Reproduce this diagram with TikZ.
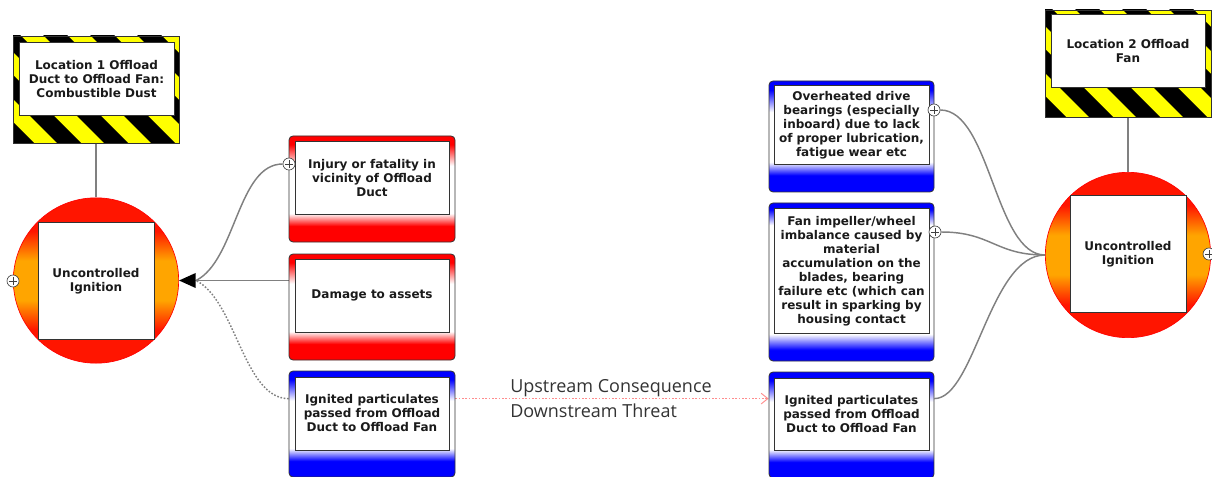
\documentclass[tikz,border=0pt]{standalone}
\usepackage{fontspec}
\setmainfont{DejaVu Sans}
\newfontfamily\labelfont{Open Sans}
\usetikzlibrary{calc,arrows.meta,backgrounds}
\definecolor{ignred}{HTML}{FF1500}
\definecolor{ignorange}{HTML}{FFA500}
\definecolor{consred}{HTML}{FF0000}
\definecolor{thrblue}{HTML}{0000FF}
\definecolor{connGray}{HTML}{808080}
\definecolor{pinkline}{HTML}{FF8C8C}
\definecolor{boxedge}{HTML}{333333}
\definecolor{txt}{HTML}{1A1A1A}
\definecolor{hazyellow}{HTML}{FFFF00}
\pgfdeclareverticalshading{igniteshade}{100bp}{color(0bp)=(ignred); color(35bp)=(ignred); color(44bp)=(ignorange); color(56bp)=(ignorange); color(65bp)=(ignred); color(100bp)=(ignred)}
\pgfdeclareverticalshading{redboxshade}{100bp}{color(0bp)=(consred); color(32.5bp)=(consred); color(38.5bp)=(white); color(61bp)=(white); color(71bp)=(consred); color(100bp)=(consred)}
\pgfdeclareverticalshading{blueboxshade}{100bp}{color(0bp)=(thrblue); color(32.5bp)=(thrblue); color(38.5bp)=(white); color(61bp)=(white); color(71bp)=(thrblue); color(100bp)=(thrblue)}
\pgfdeclareverticalshading{bluetallshade}{100bp}{color(0bp)=(thrblue); color(28.5bp)=(thrblue); color(33.5bp)=(white); color(68bp)=(white); color(73bp)=(thrblue); color(100bp)=(thrblue)}
\tikzset{
  boxtext/.style={font=\fontsize{9}{10.5}\selectfont\bfseries, text=txt, align=center},
  whitebox/.style={draw=boxedge, line width=0.75pt, fill=white, inner sep=0pt, boxtext},
  consbox/.style={draw=boxedge, line width=0.6pt, rounded corners=3pt, shading=redboxshade, minimum width=124.5pt, minimum height=79.5pt, inner sep=0pt},
  threatbox/.style={draw=boxedge, line width=0.6pt, rounded corners=3pt, shading=blueboxshade, minimum width=124.5pt, minimum height=79.5pt, inner sep=0pt},
  hazframe/.style={draw=boxedge, line width=0.5pt, fill=hazyellow, inner sep=0pt, minimum width=124.5pt, minimum height=80.25pt,
    path picture={
      \foreach \i in {-7,...,7}{
        \fill[black] ($(path picture bounding box.center)+(\i*47-58.5,-60)$) -- ++(24,0) -- ++(120,120) -- ++(-24,0) -- cycle;
      }
    }},
  ignite/.style={circle, draw=red, line width=0.5pt, shading=igniteshade, minimum size=124pt, inner sep=0pt},
  plusmark/.style={circle, draw=black!75, fill=white, line width=0.5pt, minimum size=9pt, inner sep=0pt,
    path picture={\draw[black!75, line width=0.5pt] ($(path picture bounding box.center)+(-4,0)$) -- ($(path picture bounding box.center)+(4,0)$) ($(path picture bounding box.center)+(0,-4)$) -- ($(path picture bounding box.center)+(0,4)$);}},
  conn/.style={draw=connGray, line width=1.1pt},
}
\begin{document}
\begin{tikzpicture}[x=0.75pt,y=-0.75pt]
\useasboundingbox (0,0) rectangle (1212,477);
% left side
\node[hazframe] (haz1) at (96,89.5) {};
\node[whitebox, minimum width=116.25pt, minimum height=54.75pt] (haz1t) at (96.5,79.5) {Location 1 Offload\\Duct to Offload Fan:\\Combustible Dust};
\node[ignite] (ign1) at (96,280.5) {};
\node[whitebox, minimum size=87pt] (ign1t) at (96,281) {Uncontrolled\\Ignition};
\node[plusmark] (plus1) at (13,281) {};
\node[consbox] (c1) at (372,189) {};
\node[whitebox, minimum width=115.5pt, minimum height=54.75pt] (c1t) at (372,178.5) {Injury or fatality in\\vicinity of Offload\\Duct};
\node[plusmark] (plusc1) at (289,164) {};
\node[consbox] (c2) at (372,307) {};
\node[whitebox, minimum width=115.5pt, minimum height=54.75pt] (c2t) at (372,295.5) {Damage to assets};
\node[threatbox] (t1) at (372,424) {};
\node[whitebox, minimum width=115.5pt, minimum height=54.75pt] (t1t) at (372,413.5) {Ignited particulates\\passed from Offload\\Duct to Offload Fan};
% right side
\node[threatbox, minimum width=123.75pt, minimum height=83.25pt] (tA) at (851.5,136.5) {};
\node[whitebox, minimum width=116.25pt, minimum height=59.25pt] (tAt) at (851.5,125.5) {Overheated drive\\bearings (especially\\inboard) due to lack\\of proper lubrication,\\fatigue wear etc};
\node[plusmark] (plusA) at (934,110) {};
\node[threatbox, shading=bluetallshade, minimum width=123.75pt, minimum height=118.5pt] (tB) at (851.5,282) {};
\node[whitebox, minimum width=116.25pt, minimum height=93pt] (tBt) at (851.5,271) {Fan impeller/wheel\\imbalance caused by\\material\\accumulation on the\\blades, bearing\\failure etc (which can\\result in sparking by\\housing contact};
\node[plusmark] (plusB) at (935,232) {};
\node[threatbox, minimum width=123.75pt, minimum height=79.5pt] (tC) at (851.5,425) {};
\node[whitebox, minimum width=116.25pt, minimum height=54pt] (tCt) at (851.5,414) {Ignited particulates\\passed from Offload\\Duct to Offload Fan};
\node[ignite] (ign2) at (1128,255) {};
\node[whitebox, minimum size=87pt] (ign2t) at (1128,254) {Uncontrolled\\Ignition};
\node[plusmark] (plus2) at (1209,254) {};
\node[hazframe] (haz2) at (1128,63.5) {};
\node[whitebox, minimum width=115.5pt, minimum height=54.75pt] (haz2t) at (1128,51.5) {Location 2 Offload\\Fan};
% label
\node[font=\labelfont\fontsize{13.5}{18.75}\selectfont, text=black!80, align=left, anchor=west, inner sep=0pt] (lbl) at (510,398.5) {Upstream Consequence\\Downstream Threat};
\coordinate (arrbase) at ($(ign1.east)+(17,0)$);
\begin{scope}[on background layer]
  \draw[conn] (haz1.south) -- (ign1.north);
  \draw[conn] (haz2.south) -- (ign2.north);
  \draw[conn, -{Triangle[length=12.5pt,width=11pt,black]}] (c2.west |- ign1.center) -- (ign1.east);
  \draw[conn] (plusc1.west) .. controls +(-45,0) and +(40,-20) .. (arrbase);
  \draw[conn, dash pattern=on 1.2pt off 1.3pt] ($(t1.north west)+(0,28)$) .. controls +(-45,0) and +(40,20) .. (arrbase);
  \draw[pinkline, line width=0.7pt, dash pattern=on 1.2pt off 1.3pt, -{Straight Barb[length=5pt,width=8pt,line width=0.7pt]}] ($(t1.north east)+(0,28)$) -- ($(tC.north west)+(0,27)$);
  \draw[conn] (plusA.east) .. controls +(50,0) and +(-50,0) .. (ign2.west);
  \draw[conn] (plusB.east) .. controls +(50,0) and +(-50,0) .. (ign2.west);
  \draw[conn] ($(tC.north east)+(0,27)$) .. controls +(40,0) and +(-55,0) .. (ign2.west);
\end{scope}
\end{tikzpicture}
\end{document}
